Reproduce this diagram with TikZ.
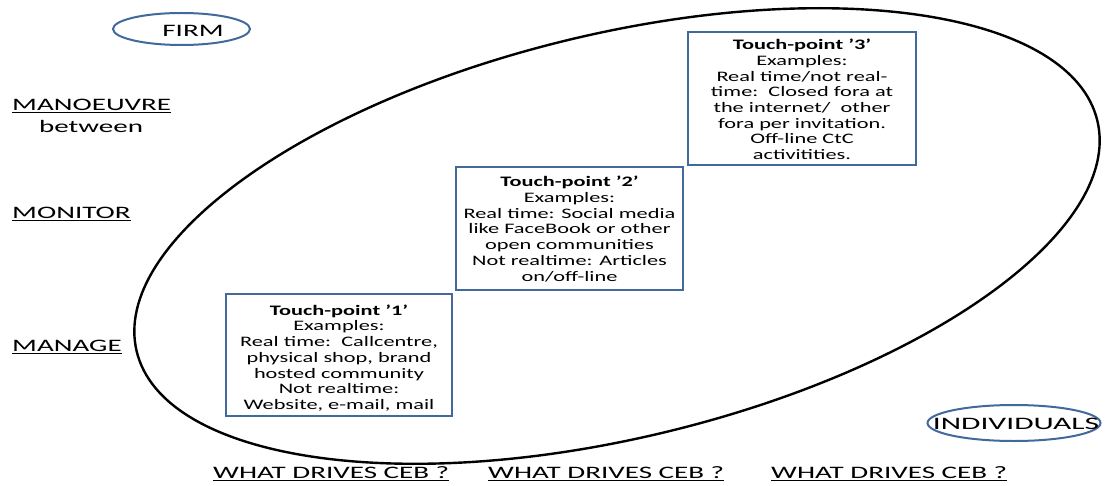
\documentclass[tikz,border=0pt]{standalone}
\usepackage{fontspec}
\setmainfont{Carlito}
\newfontfamily\boxfont[FakeStretch=1.54]{Carlito}
\newfontfamily\lblfont[FakeStretch=1.66]{Carlito}
\newfontfamily\indfont[FakeStretch=1.8]{Carlito}
\usetikzlibrary{shapes.geometric}
\definecolor{boxblue}{HTML}{41699C}
\tikzset{
  tpbox/.style={draw=boxblue, line width=2pt, fill=white, inner sep=0pt},
  tptext/.style={align=center, inner sep=0pt, font=\boxfont\fontsize{14.5}{15.7}\selectfont},
  oval/.style={draw=boxblue, line width=2pt, ellipse, inner sep=0pt},
  lbl/.style={font=\lblfont\fontsize{17.5}{20}\selectfont, inner sep=0pt},
}
\begin{document}
\begin{tikzpicture}[x=1pt,y=1pt]
\useasboundingbox (0,0) rectangle (1107,-486);
\draw[line width=2.4pt, rotate around={13.5:(617,-236)}] (617,-236) ellipse [x radius=494, y radius=202];

\node[tpbox, minimum width=226, minimum height=122] (tp1) at (339,-355) {};
\node[tptext] (tp1t) at ([yshift=-3]tp1.center)
  {\textbf{Touch-point ’1’}\\Examples:\\Real time:\ \ Callcentre,\\physical shop, brand\\hosted community\\Not realtime:\\Website, e-mail, mail};
\node[tpbox, minimum width=227, minimum height=123] (tp2) at (569.5,-228.5) {};
\node[tptext] (tp2t) at ([yshift=-0.5]tp2.center)
  {\textbf{Touch-point ’2’}\\Examples:\\Real time: Social media\\like FaceBook or other\\open communities\\Not realtime: Articles\\on/off-line};
\node[tpbox, minimum width=228, minimum height=133] (tp3) at (802,-98.5) {};
\node[tptext] (tp3t) at ([yshift=-1]tp3.center)
  {\textbf{Touch-point ’3’}\\Examples:\\Real time/not real-\\time:\ \ Closed fora at\\the internet/\ \ other\\fora per invitation.\\Off-line CtC\\activitities.};

\node[oval, minimum width=137, minimum height=32] (firm) at (181.5,-29) {};
\node[lbl] (firmt) at (193,-31) {FIRM};
\node[oval, minimum width=173, minimum height=36] (indiv) at (1014,-423) {};
\node[lbl, font=\indfont\fontsize{17.5}{20}\selectfont] (indivt) at (1016,-424) {INDIVIDUALS};

\node[lbl, anchor=west] (manoeuvre) at (12,-106) {\underline{MANOEUVRE}};
\node[lbl] (between) at (91,-126) {between};
\node[lbl, anchor=west] (monitor) at (12,-214) {\underline{MONITOR}};
\node[lbl, anchor=west] (manage) at (12,-347) {\underline{MANAGE}};

\node[lbl, anchor=west] (ceb1) at (213,-474) {\underline{WHAT DRIVES CEB ?}};
\node[lbl, anchor=west] (ceb2) at (488,-474) {\underline{WHAT DRIVES CEB ?}};
\node[lbl, anchor=west] (ceb3) at (771,-474) {\underline{WHAT DRIVES CEB ?}};
\end{tikzpicture}
\end{document}
